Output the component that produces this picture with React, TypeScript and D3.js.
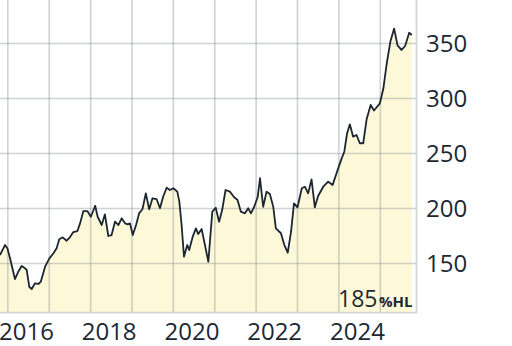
import React from "react";
import * as d3 from "d3";

const dates = [
  "2015-10-24","2015-12-07","2015-12-28","2016-01-20","2016-03-04","2016-04-02","2016-05-02","2016-06-01","2016-06-16","2016-07-08",
  "2016-07-30","2016-08-28","2016-09-27","2016-10-18","2016-11-25","2017-01-02","2017-02-07","2017-03-07","2017-03-30","2017-04-29",
  "2017-06-03","2017-07-02","2017-08-01","2017-09-06","2017-09-30","2017-10-29","2017-12-03","2018-01-03","2018-02-10","2018-03-04",
  "2018-04-09","2018-05-07","2018-06-06","2018-07-05","2018-08-04","2018-09-03","2018-10-02","2018-11-01","2018-11-24","2018-12-14",
  "2019-01-08","2019-02-06","2019-03-05","2019-04-04","2019-05-03","2019-06-02","2019-07-01","2019-08-06","2019-09-05","2019-10-03",
  "2019-11-03","2019-12-02","2020-01-01","2020-02-05","2020-02-23","2020-03-14","2020-04-04","2020-05-03","2020-05-20","2020-06-20",
  "2020-07-18","2020-08-08","2020-09-07","2020-10-06","2020-11-05","2020-12-10","2021-01-09","2021-02-08","2021-03-07","2021-04-06",
  "2021-05-14","2021-06-21","2021-07-21","2021-08-19","2021-09-24","2021-10-23","2021-11-16","2021-12-15","2022-01-15","2022-02-04",
  "2022-03-04","2022-04-03","2022-05-02","2022-06-01","2022-06-24","2022-08-08","2022-09-07","2022-10-07","2022-11-05","2022-12-01",
  "2023-01-01","2023-02-08","2023-03-07","2023-04-05","2023-05-05","2023-06-03","2023-07-02","2023-08-16","2023-09-29","2023-11-07",
  "2023-12-26","2024-01-26","2024-02-18","2024-03-14","2024-04-07","2024-05-06","2024-06-05","2024-07-04","2024-08-03","2024-09-02",
  "2024-10-08","2024-11-06","2024-12-28","2025-01-27","2025-02-27","2025-04-01","2025-05-03","2025-06-02","2025-07-07","2025-08-08",
  "2025-09-13","2025-10-06"
];

const values = [
  157.7,166.8,163.8,155.0,135.9,142.5,147.7,145.6,144.1,128.9,
  126.8,132.0,131.4,133.5,147.1,154.7,159.3,163.8,172.0,173.8,
  170.7,173.8,178.6,179.5,186.5,197.7,197.7,192.5,202.5,192.5,
  185.0,194.7,175.0,175.9,188.0,185.0,191.1,186.5,185.6,186.5,
  175.9,185.0,195.6,199.5,213.8,199.3,209.3,208.6,200.2,210.7,
  218.9,216.8,218.4,215.3,206.2,185.0,156.2,166.8,162.3,174.4,
  182.0,176.8,181.4,166.8,151.6,197.1,200.7,188.0,198.6,216.8,
  215.3,210.2,207.7,197.1,195.6,200.2,195.6,201.6,210.7,227.5,
  201.6,215.3,213.2,201.6,182.0,177.5,166.8,159.8,178.9,204.7,
  201.1,218.4,219.8,213.8,226.5,201.1,211.4,219.8,224.4,221.4,
  236.5,245.6,251.6,268.4,276.5,265.3,266.8,259.3,259.3,281.1,
  294.1,289.1,295.6,308.6,332.0,352.3,363.5,348.2,344.1,347.7,
  359.7,357.7
];

const yTicks = [150, 200, 250, 300, 350];
const yearLabels = [2016, 2018, 2020, 2022, 2024];
const gridYears = [2016, 2017, 2018, 2019, 2020, 2021, 2022, 2023, 2024, 2025];
const valueLabel = "185";
const unitLabel = "%HL";

export default function App() {
  const parse = d3.timeParse("%Y-%m-%d");
  const data = dates.map((d, i) => ({ date: parse(d) as Date, value: values[i] }));
  const plotRight = 416;
  const plotBottom = 312.7;
  const x = d3
    .scaleTime()
    .domain([parse("2015-10-24") as Date, parse("2025-11-12") as Date])
    .range([0, plotRight]);
  const y = d3.scaleLinear().domain([105.3, 389.5]).range([plotBottom, 0]);

  const area = d3
    .area<{ date: Date; value: number }>()
    .x((d) => x(d.date))
    .y0(plotBottom)
    .y1((d) => y(d.value));
  const line = d3
    .line<{ date: Date; value: number }>()
    .x((d) => x(d.date))
    .y((d) => y(d.value));

  const gridStroke = "rgba(140,150,150,0.42)";
  const textColor = "#1c2833";
  const font = "'Open Sans', 'Noto Sans', sans-serif";

  return (
    <svg
      width={512}
      height={346}
      style={{ position: "absolute", left: 0, top: 0, background: "#fff" }}
    >
      <path d={area(data) || ""} fill="#fdf9d8" />
      {yTicks.map((t) => (
        <line key={"h" + t} x1={0} x2={plotRight} y1={y(t)} y2={y(t)} stroke={gridStroke} strokeWidth={1.6} />
      ))}
      {gridYears.map((yr) => {
        const xx = x(new Date(yr, 0, 1));
        return <line key={"v" + yr} x1={xx} x2={xx} y1={0} y2={plotBottom} stroke={gridStroke} strokeWidth={1.6} />;
      })}
      <line x1={0} x2={plotRight + 1} y1={plotBottom} y2={plotBottom} stroke="#d2d6d6" strokeWidth={1.8} />
      <line x1={plotRight + 0.5} x2={plotRight + 0.5} y1={0} y2={plotBottom} stroke="#d2d6d6" strokeWidth={1.8} />
      <path d={line(data) || ""} fill="none" stroke="#1b2632" strokeWidth={1.8} strokeLinejoin="round" />
      {yTicks.map((t) => (
        <text key={"yl" + t} x={426} y={y(t) + 8.6} fontFamily={font} fontSize={24} fill={textColor}>
          {t}
        </text>
      ))}
      {yearLabels.map((yr) => (
        <text
          key={"xl" + yr}
          x={x(new Date(yr, 6, 1)) - 2}
          y={340}
          textAnchor="middle"
          fontFamily={font}
          fontSize={24}
          fill={textColor}
        >
          {yr}
        </text>
      ))}
      <text x={377.5} y={307} textAnchor="end" fontFamily={font} fontSize={23} fill={textColor}>
        {valueLabel}
      </text>
      <text x={379} y={307} fontFamily={font} fontSize={15} fontWeight="bold" fill={textColor}>
        {unitLabel}
      </text>
    </svg>
  );
}
